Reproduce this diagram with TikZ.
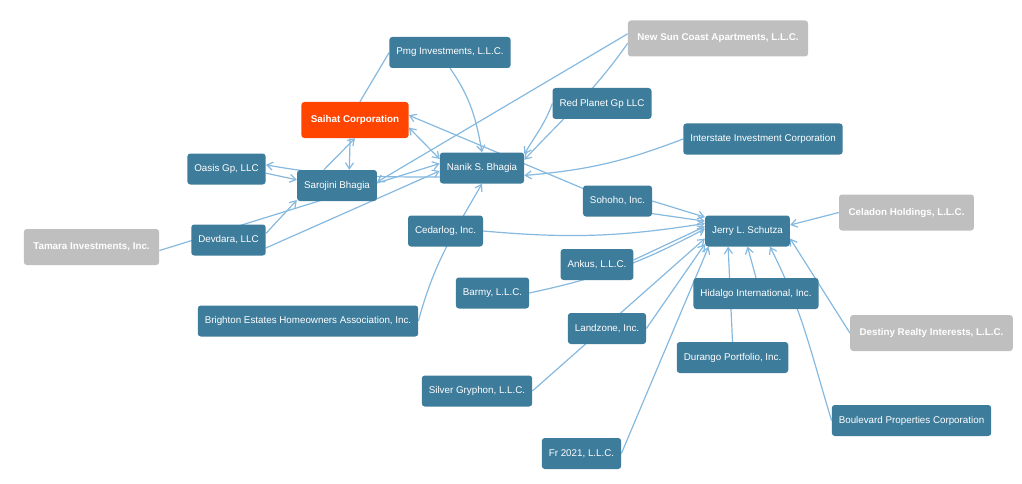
\documentclass[tikz,border=0pt]{standalone}
\usepackage{fontspec}
\setmainfont{Liberation Sans}
\usetikzlibrary{arrows.meta, backgrounds}
\definecolor{eblue}{RGB}{62,124,155}
\definecolor{egray}{RGB}{191,191,191}
\definecolor{eorange}{RGB}{255,69,0}
\definecolor{lblue}{RGB}{133,185,224}

\begin{document}
\begin{tikzpicture}[x=1pt, y=-1pt, >={Straight Barb[length=6pt,width=8pt]},
   ent/.style={
      % The shape:
      rectangle, rounded corners=3pt,
      % The size:
      minimum height=31pt, inner xsep=7pt, inner ysep=0pt,
      % The filling
      fill=eblue, draw=none,
      % Font
      text=white, font=\fontsize{9.8}{12}\selectfont},
   outer/.style={ent, minimum height=36pt, inner xsep=9.5pt, fill=egray,
      font=\fontsize{9.8}{12}\selectfont\bfseries},
   focus/.style={outer, fill=eorange},
   link/.style={draw=lblue, line width=1.2pt, ->}]
   \useasboundingbox (0,0) rectangle (1022,484);
   % entities
   \foreach \n/\x/\y/\t in {pmg/450/52.5/{Pmg Investments, L.L.C.}, oasis/226.5/169/{Oasis Gp, LLC},
      sarojini/337/185.5/Sarojini Bhagia, nanik/482/168/Nanik S. Bhagia, devdara/228.5/240/{Devdara, LLC},
      cedarlog/445.5/231/{Cedarlog, Inc.}, brighton/308/321/{Brighton Estates Homeowners Association, Inc.},
      redplanet/602/103.5/Red Planet Gp LLC, interstate/763/139/Interstate Investment Corporation,
      sohoho/617.5/201/{Sohoho, Inc.}, jerry/747.5/231/Jerry L. Schutza, ankus/597/264.5/{Ankus, L.L.C.},
      barmy/492.5/293/{Barmy, L.L.C.}, hidalgo/756/293.5/{Hidalgo International, Inc.},
      landzone/607/328.5/{Landzone, Inc.}, durango/732.5/357.5/{Durango Portfolio, Inc.},
      silver/477/391/{Silver Gryphon, L.L.C.}, boulevard/911.5/420.5/Boulevard Properties Corporation,
      fr/581.5/453.5/{Fr 2021, L.L.C.}}{
      \node[ent] (\n) at (\x,\y) {\t};
   };
   \foreach \n/\x/\y/\t in {newsun/718/38.5/{New Sun Coast Apartments, L.L.C.},
      tamara/91.5/247/{Tamara Investments, Inc.}, celadon/906.5/212.5/{Celadon Holdings, L.L.C.},
      destiny/931.5/333/{Destiny Realty Interests, L.L.C.}}{
      \node[outer] (\n) at (\x,\y) {\t};
   };
   \node[focus] (saihat) at (355,120) {Saihat Corporation};
   % links, under the boxes
   \begin{scope}[on background layer]
      \foreach \a/\b in {sohoho.160/saihat.5, sarojini.130/saihat.-90, saihat.-105/sarojini.52,
         oasis.-6/sarojini.172, newsun.177/sarojini.5, devdara.10/sarojini.-160,
         devdara.-12/nanik.-176, tamara.-3/nanik.174, sohoho.east/jerry.162, sohoho.-20/jerry.167,
         ankus.7/jerry.174, landzone.east/jerry.-163, silver.east/jerry.-170, fr.east/jerry.-158,
         hidalgo.north/jerry.south, durango.north/jerry.-141, destiny.west/jerry.-10,
         celadon.west/jerry.8}{
         \draw[link] (\a) -- (\b);
      };
      \draw[link, -] (saihat.75) -- (pmg.west);
      \draw[link, <->] (saihat.-8) -- (nanik.168);
      \draw[link] (pmg.south) to[out=-55, in=100] (nanik.north);
      \draw[link] ([yshift=-9pt]nanik.west) to[out=180, in=-10] (oasis.6);
      \draw[link] (newsun.-177) to[out=-125, in=47] (nanik.11);
      \draw[link] (redplanet.west) to[out=-110, in=60] (nanik.18);
      \draw[link] (interstate.west) to[bend left=8] (nanik.-10);
      \draw[link] (brighton.east) to[out=75, in=-120] (nanik.south);
      \draw[link] (cedarlog.east) to[bend right=7] (jerry.170);
      \draw[link] (barmy.east) to[bend right=8] (jerry.177);
      \draw[link] (boulevard.west) to[out=107, in=-63] (jerry.-35);
   \end{scope}
\end{tikzpicture}
\end{document}
